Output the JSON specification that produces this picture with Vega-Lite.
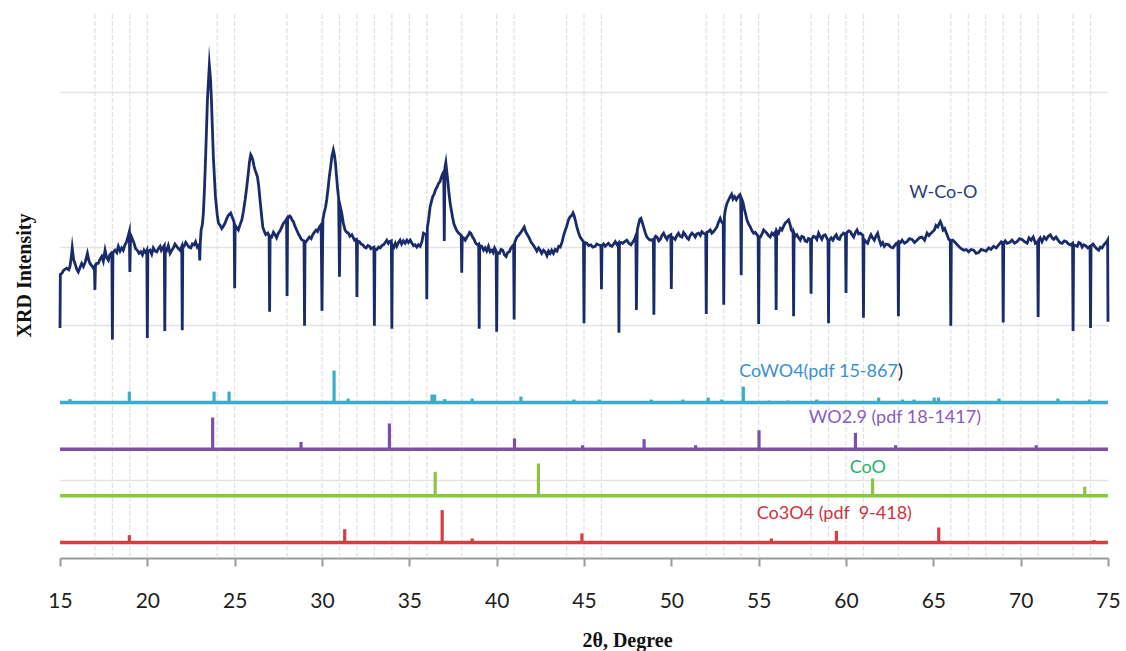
{
  "$schema": "https://vega.github.io/schema/vega-lite/v6.json",
  "width": 1048,
  "height": 544,
  "autosize": {"type": "none"},
  "padding": {"left": 60, "top": 14, "right": 18, "bottom": 93},
  "background": "white",
  "config": {"view": {"stroke": null}},
  "datasets": {
    "grid": [
      {"g": 17}, {"g": 18}, {"g": 19}, {"g": 20}, {"g": 24}, {"g": 25}, {"g": 28}, {"g": 30}, {"g": 31}, {"g": 32},
      {"g": 33}, {"g": 34}, {"g": 35}, {"g": 36}, {"g": 38}, {"g": 40}, {"g": 41}, {"g": 44}, {"g": 45}, {"g": 46},
      {"g": 52}, {"g": 53}, {"g": 54}, {"g": 55}, {"g": 58}, {"g": 59}, {"g": 60}, {"g": 61}, {"g": 63}, {"g": 66},
      {"g": 67}, {"g": 68}, {"g": 69}, {"g": 70}, {"g": 71}, {"g": 73}, {"g": 74}
    ],
    "bases": [
      {"p": "CoWO4", "a": 15, "b": 75, "lo": 20},
      {"p": "WO2.9", "a": 15, "b": 75, "lo": 14},
      {"p": "CoO", "a": 15, "b": 75, "lo": 8},
      {"p": "Co3O4", "a": 15, "b": 75, "lo": 2}
    ],
    "sticks": [
      {"p": "CoWO4", "t": 15.57, "lo": 20, "hi": 20.44},
      {"p": "CoWO4", "t": 18.97, "lo": 20, "hi": 21.42},
      {"p": "CoWO4", "t": 23.82, "lo": 20, "hi": 21.42},
      {"p": "CoWO4", "t": 24.68, "lo": 20, "hi": 21.42},
      {"p": "CoWO4", "t": 30.69, "lo": 20, "hi": 24.12},
      {"p": "CoWO4", "t": 31.5, "lo": 20, "hi": 20.51},
      {"p": "CoWO4", "t": 36.3, "lo": 20, "hi": 21.03},
      {"p": "CoWO4", "t": 36.45, "lo": 20, "hi": 21.03},
      {"p": "CoWO4", "t": 37.03, "lo": 20, "hi": 20.44},
      {"p": "CoWO4", "t": 38.6, "lo": 20, "hi": 20.51},
      {"p": "CoWO4", "t": 41.39, "lo": 20, "hi": 20.77},
      {"p": "CoWO4", "t": 44.42, "lo": 20, "hi": 20.39},
      {"p": "CoWO4", "t": 45.87, "lo": 20, "hi": 20.39},
      {"p": "CoWO4", "t": 48.85, "lo": 20, "hi": 20.39},
      {"p": "CoWO4", "t": 50.66, "lo": 20, "hi": 20.39},
      {"p": "CoWO4", "t": 52.11, "lo": 20, "hi": 20.64},
      {"p": "CoWO4", "t": 52.88, "lo": 20, "hi": 20.39},
      {"p": "CoWO4", "t": 54.12, "lo": 20, "hi": 22.06},
      {"p": "CoWO4", "t": 55.59, "lo": 20, "hi": 20.26},
      {"p": "CoWO4", "t": 56.66, "lo": 20, "hi": 20.26},
      {"p": "CoWO4", "t": 58.32, "lo": 20, "hi": 20.39},
      {"p": "CoWO4", "t": 61.87, "lo": 20, "hi": 20.64},
      {"p": "CoWO4", "t": 63.23, "lo": 20, "hi": 20.39},
      {"p": "CoWO4", "t": 63.9, "lo": 20, "hi": 20.39},
      {"p": "CoWO4", "t": 65.05, "lo": 20, "hi": 20.64},
      {"p": "CoWO4", "t": 65.3, "lo": 20, "hi": 20.64},
      {"p": "CoWO4", "t": 68.76, "lo": 20, "hi": 20.51},
      {"p": "CoWO4", "t": 72.13, "lo": 20, "hi": 20.51},
      {"p": "CoWO4", "t": 73.93, "lo": 20, "hi": 20.39},
      {"p": "WO2.9", "t": 23.74, "lo": 14, "hi": 18.08},
      {"p": "WO2.9", "t": 28.8, "lo": 14, "hi": 14.94},
      {"p": "WO2.9", "t": 33.86, "lo": 14, "hi": 17.31},
      {"p": "WO2.9", "t": 41.02, "lo": 14, "hi": 15.38},
      {"p": "WO2.9", "t": 44.92, "lo": 14, "hi": 14.51},
      {"p": "WO2.9", "t": 48.44, "lo": 14, "hi": 15.29},
      {"p": "WO2.9", "t": 51.39, "lo": 14, "hi": 14.51},
      {"p": "WO2.9", "t": 55.02, "lo": 14, "hi": 16.44},
      {"p": "WO2.9", "t": 60.54, "lo": 14, "hi": 16.1},
      {"p": "WO2.9", "t": 62.84, "lo": 14, "hi": 14.51},
      {"p": "WO2.9", "t": 70.89, "lo": 14, "hi": 14.51},
      {"p": "CoO", "t": 36.48, "lo": 8, "hi": 11.09},
      {"p": "CoO", "t": 42.39, "lo": 8, "hi": 12.17},
      {"p": "CoO", "t": 61.52, "lo": 8, "hi": 10.24},
      {"p": "CoO", "t": 73.67, "lo": 8, "hi": 9.16},
      {"p": "Co3O4", "t": 18.97, "lo": 2, "hi": 2.94},
      {"p": "Co3O4", "t": 31.3, "lo": 2, "hi": 3.71},
      {"p": "Co3O4", "t": 36.88, "lo": 2, "hi": 6.16},
      {"p": "Co3O4", "t": 38.6, "lo": 2, "hi": 2.51},
      {"p": "Co3O4", "t": 44.88, "lo": 2, "hi": 3.16},
      {"p": "Co3O4", "t": 55.73, "lo": 2, "hi": 2.51},
      {"p": "Co3O4", "t": 59.45, "lo": 2, "hi": 3.49},
      {"p": "Co3O4", "t": 65.31, "lo": 2, "hi": 3.93},
      {"p": "Co3O4", "t": 74.2, "lo": 2, "hi": 2.32}
    ],
    "labels": [
      {"name": "W-Co-O", "t": 65.57, "v": 46.97},
      {"name": "WO2.9 (pdf 18-1417)", "t": 62.8, "v": 17.98},
      {"name": "CoO", "t": 61.25, "v": 11.54},
      {"name": "Co3O4 (pdf \u00a09-418)", "t": 59.33, "v": 5.62}
    ],
    "cowo4": [
      {"name": "CoWO4(pdf 15-867", "t": 62.97, "v": 23.97}
    ],
    "paren": [
      {"name": ")", "t": 62.97, "v": 23.97}
    ],
    "trace": [
      {"t": 15.0, "i": 29.6}, {"t": 15.02, "i": 36.5}, {"t": 15.1, "i": 36.6}, {"t": 15.2, "i": 37.0}, {"t": 15.38, "i": 37.3},
      {"t": 15.5, "i": 37.1}, {"t": 15.57, "i": 37.5}, {"t": 15.64, "i": 38.6}, {"t": 15.7, "i": 39.9}, {"t": 15.78, "i": 38.4},
      {"t": 15.86, "i": 37.9}, {"t": 15.95, "i": 37.2}, {"t": 16.05, "i": 36.8}, {"t": 16.15, "i": 37.4}, {"t": 16.24, "i": 37.9},
      {"t": 16.34, "i": 37.5}, {"t": 16.45, "i": 38.1}, {"t": 16.57, "i": 39.2}, {"t": 16.65, "i": 38.3}, {"t": 16.72, "i": 37.9},
      {"t": 16.82, "i": 37.6}, {"t": 16.91, "i": 37.3}, {"t": 16.97, "i": 37.5}, {"t": 17.0, "i": 34.5}, {"t": 17.03, "i": 37.6},
      {"t": 17.1, "i": 37.9}, {"t": 17.19, "i": 37.9}, {"t": 17.3, "i": 38.5}, {"t": 17.39, "i": 38.8}, {"t": 17.48, "i": 38.2},
      {"t": 17.58, "i": 39.6}, {"t": 17.68, "i": 38.6}, {"t": 17.77, "i": 38.3}, {"t": 17.85, "i": 39.0}, {"t": 17.93, "i": 39.2},
      {"t": 17.97, "i": 39.0}, {"t": 18.0, "i": 28.1}, {"t": 18.03, "i": 39.3}, {"t": 18.15, "i": 39.6}, {"t": 18.25, "i": 39.3},
      {"t": 18.34, "i": 40.1}, {"t": 18.44, "i": 39.5}, {"t": 18.53, "i": 39.9}, {"t": 18.62, "i": 39.6}, {"t": 18.72, "i": 40.3},
      {"t": 18.8, "i": 40.6}, {"t": 18.9, "i": 41.4}, {"t": 18.97, "i": 42.0}, {"t": 19.0, "i": 36.8}, {"t": 19.04, "i": 41.6},
      {"t": 19.1, "i": 41.3}, {"t": 19.24, "i": 40.5}, {"t": 19.33, "i": 39.8}, {"t": 19.43, "i": 39.6}, {"t": 19.52, "i": 39.2},
      {"t": 19.62, "i": 39.4}, {"t": 19.72, "i": 39.0}, {"t": 19.81, "i": 39.6}, {"t": 19.9, "i": 39.3}, {"t": 19.97, "i": 39.6},
      {"t": 20.0, "i": 28.3}, {"t": 20.03, "i": 39.4}, {"t": 20.15, "i": 39.6}, {"t": 20.25, "i": 39.1}, {"t": 20.34, "i": 39.9},
      {"t": 20.44, "i": 39.5}, {"t": 20.54, "i": 39.4}, {"t": 20.63, "i": 39.8}, {"t": 20.73, "i": 40.1}, {"t": 20.8, "i": 39.6},
      {"t": 20.88, "i": 39.9}, {"t": 20.97, "i": 40.2}, {"t": 21.0, "i": 29.2}, {"t": 21.03, "i": 39.8}, {"t": 21.11, "i": 39.6},
      {"t": 21.2, "i": 40.2}, {"t": 21.3, "i": 39.2}, {"t": 21.4, "i": 39.6}, {"t": 21.49, "i": 39.9}, {"t": 21.58, "i": 40.4},
      {"t": 21.68, "i": 40.1}, {"t": 21.78, "i": 39.8}, {"t": 21.87, "i": 39.6}, {"t": 21.97, "i": 40.1}, {"t": 22.0, "i": 29.3},
      {"t": 22.03, "i": 40.0}, {"t": 22.1, "i": 40.1}, {"t": 22.2, "i": 40.6}, {"t": 22.29, "i": 40.3}, {"t": 22.39, "i": 40.0},
      {"t": 22.49, "i": 39.9}, {"t": 22.58, "i": 40.4}, {"t": 22.67, "i": 40.3}, {"t": 22.76, "i": 40.7}, {"t": 22.86, "i": 40.0},
      {"t": 22.97, "i": 40.3}, {"t": 23.0, "i": 38.3}, {"t": 23.03, "i": 40.5}, {"t": 23.08, "i": 42.2}, {"t": 23.15, "i": 42.9},
      {"t": 23.21, "i": 44.4}, {"t": 23.28, "i": 48.0}, {"t": 23.35, "i": 52.5}, {"t": 23.44, "i": 58.9}, {"t": 23.55, "i": 63.4},
      {"t": 23.62, "i": 61.5}, {"t": 23.67, "i": 58.9}, {"t": 23.78, "i": 51.6}, {"t": 23.9, "i": 46.5}, {"t": 24.0, "i": 44.2},
      {"t": 24.07, "i": 43.1}, {"t": 24.17, "i": 42.8}, {"t": 24.26, "i": 42.4}, {"t": 24.35, "i": 42.7}, {"t": 24.45, "i": 43.1},
      {"t": 24.55, "i": 43.7}, {"t": 24.64, "i": 44.1}, {"t": 24.77, "i": 44.4}, {"t": 24.89, "i": 43.7}, {"t": 24.97, "i": 43.2},
      {"t": 25.0, "i": 34.7}, {"t": 25.03, "i": 42.8}, {"t": 25.08, "i": 42.6}, {"t": 25.21, "i": 42.2}, {"t": 25.31, "i": 42.9},
      {"t": 25.41, "i": 43.5}, {"t": 25.5, "i": 44.6}, {"t": 25.6, "i": 46.1}, {"t": 25.7, "i": 47.9}, {"t": 25.78, "i": 49.5},
      {"t": 25.85, "i": 51.0}, {"t": 25.92, "i": 51.9}, {"t": 25.97, "i": 51.7}, {"t": 26.04, "i": 51.2}, {"t": 26.1, "i": 50.5},
      {"t": 26.17, "i": 49.9}, {"t": 26.3, "i": 49.1}, {"t": 26.38, "i": 47.8}, {"t": 26.45, "i": 46.1}, {"t": 26.53, "i": 44.3},
      {"t": 26.61, "i": 42.6}, {"t": 26.7, "i": 42.0}, {"t": 26.78, "i": 41.6}, {"t": 26.9, "i": 41.8}, {"t": 26.97, "i": 41.5},
      {"t": 27.0, "i": 31.7}, {"t": 27.03, "i": 41.4}, {"t": 27.12, "i": 41.3}, {"t": 27.22, "i": 41.9}, {"t": 27.31, "i": 41.6},
      {"t": 27.4, "i": 41.2}, {"t": 27.5, "i": 41.8}, {"t": 27.6, "i": 42.1}, {"t": 27.7, "i": 42.6}, {"t": 27.8, "i": 43.1},
      {"t": 27.89, "i": 43.3}, {"t": 27.97, "i": 43.6}, {"t": 28.0, "i": 33.7}, {"t": 28.03, "i": 43.7}, {"t": 28.08, "i": 43.8},
      {"t": 28.15, "i": 44.0}, {"t": 28.21, "i": 43.9}, {"t": 28.28, "i": 43.5}, {"t": 28.36, "i": 43.3}, {"t": 28.45, "i": 42.7},
      {"t": 28.55, "i": 42.2}, {"t": 28.65, "i": 41.7}, {"t": 28.75, "i": 41.3}, {"t": 28.82, "i": 41.0}, {"t": 28.88, "i": 40.9},
      {"t": 28.97, "i": 40.8}, {"t": 29.0, "i": 29.9}, {"t": 29.03, "i": 40.7}, {"t": 29.09, "i": 40.7}, {"t": 29.18, "i": 41.0},
      {"t": 29.28, "i": 41.3}, {"t": 29.38, "i": 41.1}, {"t": 29.47, "i": 41.6}, {"t": 29.56, "i": 41.9}, {"t": 29.66, "i": 42.2},
      {"t": 29.75, "i": 42.0}, {"t": 29.85, "i": 42.6}, {"t": 29.95, "i": 42.9}, {"t": 30.0, "i": 31.8}, {"t": 30.05, "i": 43.5},
      {"t": 30.12, "i": 44.4}, {"t": 30.2, "i": 45.1}, {"t": 30.27, "i": 46.1}, {"t": 30.35, "i": 47.6}, {"t": 30.42, "i": 49.1},
      {"t": 30.5, "i": 50.4}, {"t": 30.56, "i": 51.6}, {"t": 30.65, "i": 52.5}, {"t": 30.71, "i": 51.9}, {"t": 30.77, "i": 50.8},
      {"t": 30.83, "i": 49.2}, {"t": 30.88, "i": 47.8}, {"t": 30.95, "i": 46.3}, {"t": 31.0, "i": 36.2}, {"t": 31.05, "i": 45.2},
      {"t": 31.13, "i": 44.4}, {"t": 31.22, "i": 43.1}, {"t": 31.32, "i": 42.2}, {"t": 31.42, "i": 41.9}, {"t": 31.51, "i": 41.8},
      {"t": 31.6, "i": 41.4}, {"t": 31.71, "i": 41.6}, {"t": 31.8, "i": 41.2}, {"t": 31.86, "i": 40.9}, {"t": 31.97, "i": 41.0},
      {"t": 32.0, "i": 33.6}, {"t": 32.03, "i": 40.8}, {"t": 32.14, "i": 40.7}, {"t": 32.24, "i": 40.4}, {"t": 32.34, "i": 40.3},
      {"t": 32.43, "i": 40.0}, {"t": 32.53, "i": 39.9}, {"t": 32.62, "i": 40.2}, {"t": 32.72, "i": 40.1}, {"t": 32.8, "i": 39.8},
      {"t": 32.87, "i": 39.9}, {"t": 32.97, "i": 40.0}, {"t": 33.0, "i": 29.9}, {"t": 33.03, "i": 39.8}, {"t": 33.14, "i": 39.7},
      {"t": 33.24, "i": 40.0}, {"t": 33.33, "i": 39.9}, {"t": 33.43, "i": 40.2}, {"t": 33.52, "i": 40.3}, {"t": 33.62, "i": 40.6},
      {"t": 33.71, "i": 40.9}, {"t": 33.8, "i": 40.5}, {"t": 33.86, "i": 40.7}, {"t": 33.97, "i": 40.8}, {"t": 34.0, "i": 29.5},
      {"t": 34.03, "i": 40.3}, {"t": 34.12, "i": 40.0}, {"t": 34.2, "i": 40.5}, {"t": 34.28, "i": 40.1}, {"t": 34.38, "i": 40.6},
      {"t": 34.47, "i": 40.9}, {"t": 34.56, "i": 40.4}, {"t": 34.66, "i": 40.8}, {"t": 34.76, "i": 40.5}, {"t": 34.86, "i": 40.9},
      {"t": 34.95, "i": 40.6}, {"t": 35.05, "i": 40.9}, {"t": 35.15, "i": 40.5}, {"t": 35.24, "i": 40.2}, {"t": 35.33, "i": 40.3},
      {"t": 35.43, "i": 40.0}, {"t": 35.52, "i": 40.3}, {"t": 35.62, "i": 40.1}, {"t": 35.72, "i": 40.7}, {"t": 35.81, "i": 41.8},
      {"t": 35.97, "i": 41.6}, {"t": 36.0, "i": 33.3}, {"t": 36.03, "i": 42.5}, {"t": 36.1, "i": 43.5}, {"t": 36.19, "i": 45.2},
      {"t": 36.27, "i": 45.9}, {"t": 36.34, "i": 46.5}, {"t": 36.42, "i": 46.8}, {"t": 36.5, "i": 47.4}, {"t": 36.58, "i": 47.7},
      {"t": 36.67, "i": 48.2}, {"t": 36.75, "i": 48.4}, {"t": 36.82, "i": 48.9}, {"t": 36.9, "i": 49.4}, {"t": 36.97, "i": 49.7},
      {"t": 37.0, "i": 40.8}, {"t": 37.04, "i": 50.3}, {"t": 37.09, "i": 50.9}, {"t": 37.15, "i": 49.6}, {"t": 37.2, "i": 48.6},
      {"t": 37.27, "i": 46.9}, {"t": 37.34, "i": 45.6}, {"t": 37.4, "i": 44.8}, {"t": 37.47, "i": 43.9}, {"t": 37.55, "i": 43.0},
      {"t": 37.62, "i": 42.6}, {"t": 37.72, "i": 42.1}, {"t": 37.82, "i": 41.8}, {"t": 37.97, "i": 41.5}, {"t": 38.0, "i": 36.7},
      {"t": 38.03, "i": 41.3}, {"t": 38.1, "i": 41.2}, {"t": 38.2, "i": 40.9}, {"t": 38.3, "i": 41.3}, {"t": 38.39, "i": 41.6},
      {"t": 38.45, "i": 41.9}, {"t": 38.52, "i": 41.8}, {"t": 38.62, "i": 41.3}, {"t": 38.71, "i": 41.0}, {"t": 38.8, "i": 40.5},
      {"t": 38.9, "i": 40.3}, {"t": 38.97, "i": 40.4}, {"t": 39.0, "i": 29.5}, {"t": 39.03, "i": 40.2}, {"t": 39.15, "i": 40.1},
      {"t": 39.25, "i": 39.6}, {"t": 39.34, "i": 39.9}, {"t": 39.43, "i": 39.5}, {"t": 39.53, "i": 40.1}, {"t": 39.62, "i": 39.4},
      {"t": 39.72, "i": 39.6}, {"t": 39.8, "i": 39.3}, {"t": 39.88, "i": 39.9}, {"t": 39.97, "i": 39.5}, {"t": 40.0, "i": 29.1},
      {"t": 40.03, "i": 39.3}, {"t": 40.16, "i": 39.2}, {"t": 40.25, "i": 39.7}, {"t": 40.35, "i": 39.6}, {"t": 40.45, "i": 39.0},
      {"t": 40.54, "i": 38.8}, {"t": 40.63, "i": 39.3}, {"t": 40.73, "i": 39.4}, {"t": 40.8, "i": 39.8}, {"t": 40.89, "i": 40.1},
      {"t": 40.97, "i": 40.3}, {"t": 41.0, "i": 30.7}, {"t": 41.03, "i": 40.6}, {"t": 41.16, "i": 41.3}, {"t": 41.25, "i": 41.5},
      {"t": 41.35, "i": 41.8}, {"t": 41.45, "i": 42.1}, {"t": 41.52, "i": 42.4}, {"t": 41.58, "i": 42.6}, {"t": 41.66, "i": 42.0},
      {"t": 41.76, "i": 41.6}, {"t": 41.86, "i": 41.2}, {"t": 41.96, "i": 40.7}, {"t": 42.08, "i": 40.3}, {"t": 42.2, "i": 39.9},
      {"t": 42.3, "i": 39.5}, {"t": 42.4, "i": 39.9}, {"t": 42.49, "i": 39.6}, {"t": 42.58, "i": 39.2}, {"t": 42.68, "i": 39.6},
      {"t": 42.78, "i": 39.4}, {"t": 42.88, "i": 38.9}, {"t": 42.97, "i": 39.5}, {"t": 43.06, "i": 39.2}, {"t": 43.15, "i": 39.6},
      {"t": 43.25, "i": 39.2}, {"t": 43.35, "i": 39.7}, {"t": 43.45, "i": 39.5}, {"t": 43.55, "i": 40.1}, {"t": 43.64, "i": 40.0},
      {"t": 43.75, "i": 40.7}, {"t": 43.87, "i": 41.8}, {"t": 44.0, "i": 42.6}, {"t": 44.11, "i": 43.5}, {"t": 44.2, "i": 43.9},
      {"t": 44.3, "i": 44.1}, {"t": 44.37, "i": 44.4}, {"t": 44.44, "i": 44.0}, {"t": 44.52, "i": 43.3}, {"t": 44.59, "i": 42.6},
      {"t": 44.68, "i": 41.9}, {"t": 44.78, "i": 41.3}, {"t": 44.9, "i": 40.9}, {"t": 44.97, "i": 40.7}, {"t": 45.0, "i": 30.2},
      {"t": 45.03, "i": 40.6}, {"t": 45.16, "i": 40.5}, {"t": 45.27, "i": 40.2}, {"t": 45.39, "i": 40.3}, {"t": 45.5, "i": 40.0},
      {"t": 45.64, "i": 40.1}, {"t": 45.73, "i": 40.4}, {"t": 45.83, "i": 40.3}, {"t": 45.97, "i": 40.2}, {"t": 46.0, "i": 34.6},
      {"t": 46.03, "i": 40.2}, {"t": 46.12, "i": 40.4}, {"t": 46.21, "i": 40.1}, {"t": 46.3, "i": 40.3}, {"t": 46.4, "i": 40.5},
      {"t": 46.5, "i": 40.2}, {"t": 46.6, "i": 40.1}, {"t": 46.7, "i": 40.4}, {"t": 46.79, "i": 40.7}, {"t": 46.9, "i": 40.3},
      {"t": 46.97, "i": 40.5}, {"t": 47.0, "i": 29.0}, {"t": 47.03, "i": 40.4}, {"t": 47.12, "i": 40.6}, {"t": 47.22, "i": 40.5},
      {"t": 47.33, "i": 40.7}, {"t": 47.45, "i": 40.9}, {"t": 47.57, "i": 40.5}, {"t": 47.69, "i": 40.3}, {"t": 47.78, "i": 40.6},
      {"t": 47.87, "i": 40.9}, {"t": 47.97, "i": 41.5}, {"t": 48.0, "i": 31.9}, {"t": 48.05, "i": 42.2}, {"t": 48.14, "i": 43.1},
      {"t": 48.2, "i": 43.6}, {"t": 48.26, "i": 43.7}, {"t": 48.33, "i": 43.2}, {"t": 48.41, "i": 42.6}, {"t": 48.5, "i": 41.9},
      {"t": 48.6, "i": 41.3}, {"t": 48.72, "i": 41.0}, {"t": 48.83, "i": 40.9}, {"t": 48.97, "i": 41.0}, {"t": 49.0, "i": 31.3},
      {"t": 49.03, "i": 41.1}, {"t": 49.1, "i": 41.4}, {"t": 49.18, "i": 41.3}, {"t": 49.28, "i": 40.8}, {"t": 49.37, "i": 41.0},
      {"t": 49.46, "i": 41.5}, {"t": 49.56, "i": 41.8}, {"t": 49.66, "i": 41.3}, {"t": 49.75, "i": 41.0}, {"t": 49.83, "i": 41.4},
      {"t": 49.97, "i": 41.6}, {"t": 50.0, "i": 34.6}, {"t": 50.03, "i": 41.3}, {"t": 50.12, "i": 41.2}, {"t": 50.22, "i": 41.0},
      {"t": 50.32, "i": 41.5}, {"t": 50.41, "i": 41.8}, {"t": 50.5, "i": 41.4}, {"t": 50.61, "i": 41.3}, {"t": 50.7, "i": 41.9},
      {"t": 50.8, "i": 41.6}, {"t": 50.9, "i": 41.2}, {"t": 50.99, "i": 41.0}, {"t": 51.08, "i": 41.5}, {"t": 51.18, "i": 41.8},
      {"t": 51.28, "i": 41.6}, {"t": 51.37, "i": 41.3}, {"t": 51.46, "i": 41.7}, {"t": 51.56, "i": 41.8}, {"t": 51.66, "i": 41.5},
      {"t": 51.75, "i": 42.0}, {"t": 51.84, "i": 41.8}, {"t": 51.97, "i": 41.6}, {"t": 52.0, "i": 31.4}, {"t": 52.03, "i": 41.9},
      {"t": 52.12, "i": 42.0}, {"t": 52.23, "i": 42.2}, {"t": 52.32, "i": 41.8}, {"t": 52.42, "i": 42.0}, {"t": 52.52, "i": 42.3},
      {"t": 52.61, "i": 42.6}, {"t": 52.7, "i": 43.2}, {"t": 52.8, "i": 43.7}, {"t": 52.87, "i": 43.3}, {"t": 52.97, "i": 43.0},
      {"t": 53.0, "i": 32.6}, {"t": 53.04, "i": 44.0}, {"t": 53.1, "i": 44.9}, {"t": 53.18, "i": 45.6}, {"t": 53.28, "i": 46.1},
      {"t": 53.37, "i": 46.5}, {"t": 53.45, "i": 46.8}, {"t": 53.53, "i": 46.2}, {"t": 53.62, "i": 46.5}, {"t": 53.72, "i": 46.1},
      {"t": 53.8, "i": 46.4}, {"t": 53.91, "i": 46.7}, {"t": 53.97, "i": 46.3}, {"t": 54.0, "i": 36.4}, {"t": 54.03, "i": 46.2},
      {"t": 54.1, "i": 45.8}, {"t": 54.17, "i": 45.0}, {"t": 54.25, "i": 44.3}, {"t": 54.33, "i": 43.5}, {"t": 54.42, "i": 43.0},
      {"t": 54.52, "i": 42.6}, {"t": 54.62, "i": 42.1}, {"t": 54.71, "i": 41.8}, {"t": 54.8, "i": 41.9}, {"t": 54.9, "i": 41.6},
      {"t": 54.97, "i": 41.4}, {"t": 55.0, "i": 30.1}, {"t": 55.03, "i": 41.3}, {"t": 55.1, "i": 41.3}, {"t": 55.19, "i": 41.7},
      {"t": 55.28, "i": 42.2}, {"t": 55.37, "i": 42.0}, {"t": 55.47, "i": 41.8}, {"t": 55.56, "i": 41.5}, {"t": 55.66, "i": 41.3},
      {"t": 55.76, "i": 41.8}, {"t": 55.85, "i": 41.6}, {"t": 55.97, "i": 42.0}, {"t": 56.0, "i": 31.9}, {"t": 56.03, "i": 42.1},
      {"t": 56.14, "i": 41.8}, {"t": 56.24, "i": 42.4}, {"t": 56.33, "i": 42.2}, {"t": 56.43, "i": 42.7}, {"t": 56.52, "i": 43.1},
      {"t": 56.62, "i": 43.3}, {"t": 56.71, "i": 43.5}, {"t": 56.8, "i": 42.9}, {"t": 56.87, "i": 42.2}, {"t": 56.97, "i": 41.9},
      {"t": 57.0, "i": 31.1}, {"t": 57.03, "i": 41.8}, {"t": 57.1, "i": 41.4}, {"t": 57.19, "i": 41.6}, {"t": 57.29, "i": 41.2},
      {"t": 57.38, "i": 40.9}, {"t": 57.47, "i": 41.4}, {"t": 57.57, "i": 41.3}, {"t": 57.66, "i": 40.8}, {"t": 57.76, "i": 40.7},
      {"t": 57.85, "i": 41.1}, {"t": 57.97, "i": 41.0}, {"t": 58.0, "i": 34.0}, {"t": 58.03, "i": 41.0}, {"t": 58.14, "i": 41.4},
      {"t": 58.24, "i": 41.3}, {"t": 58.33, "i": 41.0}, {"t": 58.43, "i": 41.8}, {"t": 58.52, "i": 41.4}, {"t": 58.62, "i": 41.0},
      {"t": 58.71, "i": 41.5}, {"t": 58.81, "i": 41.6}, {"t": 58.9, "i": 41.2}, {"t": 58.97, "i": 40.9}, {"t": 59.0, "i": 30.2},
      {"t": 59.03, "i": 40.8}, {"t": 59.15, "i": 41.2}, {"t": 59.25, "i": 40.9}, {"t": 59.34, "i": 41.3}, {"t": 59.44, "i": 41.6},
      {"t": 59.53, "i": 41.1}, {"t": 59.63, "i": 41.0}, {"t": 59.72, "i": 41.5}, {"t": 59.86, "i": 41.8}, {"t": 59.97, "i": 41.6},
      {"t": 60.0, "i": 34.1}, {"t": 60.03, "i": 41.8}, {"t": 60.15, "i": 42.1}, {"t": 60.25, "i": 42.0}, {"t": 60.34, "i": 41.6},
      {"t": 60.44, "i": 41.3}, {"t": 60.54, "i": 41.9}, {"t": 60.63, "i": 42.2}, {"t": 60.72, "i": 41.7}, {"t": 60.82, "i": 41.8},
      {"t": 60.97, "i": 41.5}, {"t": 61.0, "i": 30.9}, {"t": 61.03, "i": 41.0}, {"t": 61.14, "i": 40.7}, {"t": 61.24, "i": 40.5},
      {"t": 61.33, "i": 41.1}, {"t": 61.43, "i": 41.6}, {"t": 61.52, "i": 41.2}, {"t": 61.62, "i": 40.9}, {"t": 61.71, "i": 41.4},
      {"t": 61.81, "i": 41.8}, {"t": 61.9, "i": 41.0}, {"t": 62.0, "i": 40.3}, {"t": 62.1, "i": 40.6}, {"t": 62.19, "i": 40.1},
      {"t": 62.3, "i": 40.4}, {"t": 62.44, "i": 40.3}, {"t": 62.56, "i": 40.0}, {"t": 62.69, "i": 39.9}, {"t": 62.78, "i": 40.2},
      {"t": 62.88, "i": 40.5}, {"t": 62.97, "i": 40.6}, {"t": 63.0, "i": 31.1}, {"t": 63.03, "i": 40.7}, {"t": 63.12, "i": 40.6},
      {"t": 63.21, "i": 40.9}, {"t": 63.35, "i": 40.5}, {"t": 63.49, "i": 40.7}, {"t": 63.63, "i": 41.1}, {"t": 63.78, "i": 41.0},
      {"t": 63.92, "i": 40.6}, {"t": 64.07, "i": 40.9}, {"t": 64.2, "i": 41.2}, {"t": 64.35, "i": 41.3}, {"t": 64.5, "i": 40.9},
      {"t": 64.64, "i": 41.8}, {"t": 64.75, "i": 41.5}, {"t": 64.87, "i": 41.8}, {"t": 64.97, "i": 42.0}, {"t": 65.06, "i": 42.2},
      {"t": 65.15, "i": 42.8}, {"t": 65.25, "i": 42.6}, {"t": 65.33, "i": 43.0}, {"t": 65.4, "i": 43.3}, {"t": 65.48, "i": 42.9},
      {"t": 65.56, "i": 42.2}, {"t": 65.65, "i": 42.4}, {"t": 65.75, "i": 41.8}, {"t": 65.82, "i": 41.4}, {"t": 65.88, "i": 41.0},
      {"t": 65.97, "i": 40.9}, {"t": 66.0, "i": 29.9}, {"t": 66.03, "i": 40.8}, {"t": 66.12, "i": 40.9}, {"t": 66.21, "i": 40.7},
      {"t": 66.33, "i": 40.4}, {"t": 66.45, "i": 40.1}, {"t": 66.6, "i": 39.8}, {"t": 66.74, "i": 39.6}, {"t": 66.88, "i": 39.7},
      {"t": 67.02, "i": 39.4}, {"t": 67.16, "i": 39.7}, {"t": 67.31, "i": 39.6}, {"t": 67.45, "i": 39.2}, {"t": 67.59, "i": 39.3},
      {"t": 67.74, "i": 39.7}, {"t": 67.88, "i": 39.6}, {"t": 68.02, "i": 39.5}, {"t": 68.17, "i": 39.9}, {"t": 68.3, "i": 39.7},
      {"t": 68.45, "i": 40.1}, {"t": 68.6, "i": 39.9}, {"t": 68.74, "i": 40.3}, {"t": 68.82, "i": 40.5}, {"t": 68.89, "i": 40.7},
      {"t": 68.97, "i": 40.6}, {"t": 69.0, "i": 30.3}, {"t": 69.03, "i": 40.5}, {"t": 69.12, "i": 40.8}, {"t": 69.22, "i": 40.5},
      {"t": 69.36, "i": 40.6}, {"t": 69.5, "i": 40.9}, {"t": 69.65, "i": 40.5}, {"t": 69.79, "i": 40.7}, {"t": 69.94, "i": 41.1},
      {"t": 70.08, "i": 41.0}, {"t": 70.22, "i": 40.7}, {"t": 70.37, "i": 40.5}, {"t": 70.48, "i": 41.2}, {"t": 70.6, "i": 40.9},
      {"t": 70.72, "i": 41.3}, {"t": 70.84, "i": 40.5}, {"t": 70.97, "i": 40.7}, {"t": 71.0, "i": 31.0}, {"t": 71.03, "i": 40.9},
      {"t": 71.12, "i": 41.2}, {"t": 71.22, "i": 40.7}, {"t": 71.35, "i": 41.3}, {"t": 71.47, "i": 41.0}, {"t": 71.58, "i": 41.4},
      {"t": 71.7, "i": 41.6}, {"t": 71.8, "i": 41.2}, {"t": 71.89, "i": 41.0}, {"t": 72.02, "i": 41.3}, {"t": 72.14, "i": 40.9},
      {"t": 72.25, "i": 40.6}, {"t": 72.37, "i": 40.5}, {"t": 72.5, "i": 40.8}, {"t": 72.62, "i": 40.7}, {"t": 72.74, "i": 40.4},
      {"t": 72.85, "i": 40.3}, {"t": 72.97, "i": 40.5}, {"t": 73.0, "i": 29.2}, {"t": 73.03, "i": 40.3}, {"t": 73.14, "i": 40.2},
      {"t": 73.24, "i": 40.1}, {"t": 73.33, "i": 40.6}, {"t": 73.42, "i": 40.5}, {"t": 73.52, "i": 40.0}, {"t": 73.61, "i": 40.3},
      {"t": 73.72, "i": 40.2}, {"t": 73.84, "i": 39.9}, {"t": 73.97, "i": 40.1}, {"t": 74.0, "i": 29.6}, {"t": 74.03, "i": 40.2},
      {"t": 74.14, "i": 40.4}, {"t": 74.24, "i": 40.1}, {"t": 74.35, "i": 39.8}, {"t": 74.47, "i": 39.6}, {"t": 74.56, "i": 40.0},
      {"t": 74.66, "i": 39.9}, {"t": 74.76, "i": 40.3}, {"t": 74.85, "i": 40.5}, {"t": 74.93, "i": 40.7}, {"t": 74.98, "i": 40.9},
      {"t": 75.0, "i": 30.4}
    ]
  },
  "resolve": {"scale": {"color": "independent"}},
  "layer": [
    {
      "data": {"name": "grid"},
      "mark": {"type": "rule", "color": "#e2e2e2", "strokeWidth": 1.2, "strokeDash": [5, 2]},
      "encoding": {
        "x": {
          "field": "g",
          "type": "quantitative",
          "scale": {"domain": [15, 75], "nice": false, "zero": false},
          "axis": {
            "values": [15, 20, 25, 30, 35, 40, 45, 50, 55, 60, 65, 70, 75],
            "format": "d",
            "grid": false,
            "domainColor": "#9a9a9a",
            "domainWidth": 2,
            "tickColor": "#9a9a9a",
            "tickWidth": 2,
            "tickSize": 8,
            "labelFont": "Lato",
            "labelFontSize": 21,
            "labelColor": "#1e1e1e",
            "labelPadding": 24,
            "labelFlush": false,
            "title": "2θ, Degree",
            "titleFont": "Liberation Serif",
            "titleFontWeight": "bold",
            "titleFontSize": 20,
            "titleColor": "#111111",
            "titleX": 567,
            "titleY": 82,
            "titleAlign": "center",
            "titleBaseline": "middle"
          }
        }
      }
    },
    {
      "data": {"name": "bases"},
      "mark": {"type": "rule", "strokeWidth": 3.5, "strokeCap": "butt"},
      "encoding": {
        "x": {"field": "a", "type": "quantitative"},
        "x2": {"field": "b"},
        "y": {
          "field": "lo",
          "type": "quantitative",
          "scale": {"domain": [0, 70], "nice": false, "zero": false},
          "axis": {
            "values": [10, 20, 30, 40, 60],
            "grid": true,
            "gridColor": "#e4e4e4",
            "gridWidth": 1.5,
            "domain": false,
            "ticks": false,
            "labels": false,
            "title": "XRD Intensity",
            "titleFont": "Liberation Serif",
            "titleFontWeight": "bold",
            "titleFontSize": 20,
            "titleColor": "#111111",
            "titleX": -36,
            "titleY": 261,
            "titleAngle": -90,
            "titleAlign": "center",
            "titleBaseline": "middle"
          }
        },
        "color": {
          "field": "p",
          "type": "nominal",
          "scale": {"domain": ["CoWO4", "WO2.9", "CoO", "Co3O4"], "range": ["#3badca", "#7b4fab", "#8cc443", "#d43f40"]},
          "legend": null
        }
      }
    },
    {
      "data": {"name": "sticks"},
      "mark": {"type": "rule", "strokeWidth": 3.2, "strokeCap": "butt"},
      "encoding": {
        "x": {"field": "t", "type": "quantitative"},
        "y": {"field": "lo", "type": "quantitative"},
        "y2": {"field": "hi"},
        "color": {
          "field": "p",
          "type": "nominal",
          "scale": {"domain": ["CoWO4", "WO2.9", "CoO", "Co3O4"], "range": ["#3badca", "#7b4fab", "#8cc443", "#d43f40"]},
          "legend": null
        }
      }
    },
    {
      "data": {"name": "trace"},
      "mark": {"type": "line", "color": "#1a2b6b", "strokeWidth": 2.8, "strokeJoin": "miter", "strokeMiterLimit": 20},
      "encoding": {
        "x": {"field": "t", "type": "quantitative"},
        "y": {"field": "i", "type": "quantitative"}
      }
    },
    {
      "data": {"name": "labels"},
      "mark": {"type": "text", "font": "Lato", "fontSize": 18, "align": "center", "baseline": "middle"},
      "encoding": {
        "x": {"field": "t", "type": "quantitative"},
        "y": {"field": "v", "type": "quantitative"},
        "text": {"field": "name"},
        "color": {
          "field": "name",
          "type": "nominal",
          "scale": {
            "domain": ["W-Co-O", "WO2.9 (pdf 18-1417)", "CoO", "Co3O4 (pdf \u00a09-418)"],
            "range": ["#2b3d75", "#8a5bc2", "#27b36c", "#d0343b"]
          },
          "legend": null
        }
      }
    },
    {
      "data": {"name": "cowo4"},
      "mark": {"type": "text", "font": "Lato", "fontSize": 18, "align": "right", "baseline": "middle", "color": "#3a8fd3"},
      "encoding": {
        "x": {"field": "t", "type": "quantitative"},
        "y": {"field": "v", "type": "quantitative"},
        "text": {"field": "name"}
      }
    },
    {
      "data": {"name": "paren"},
      "mark": {"type": "text", "font": "Lato", "fontSize": 19, "align": "left", "baseline": "middle", "color": "#111111"},
      "encoding": {
        "x": {"field": "t", "type": "quantitative"},
        "y": {"field": "v", "type": "quantitative"},
        "text": {"field": "name"}
      }
    }
  ]
}
